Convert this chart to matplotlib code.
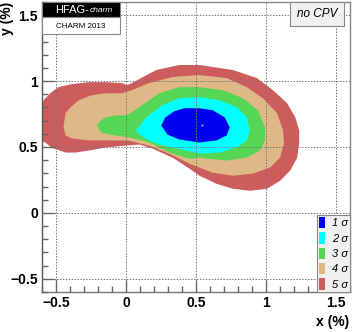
import numpy as np
import matplotlib
matplotlib.use('Agg')
import matplotlib.pyplot as plt
from matplotlib.patches import Rectangle, Patch
from matplotlib.ticker import MultipleLocator

plt.rcParams['font.family'] = ['Liberation Sans', 'DejaVu Sans']

# contour outlines (x %, y %)
x5 = [-0.63, -0.63, -0.576, -0.532, -0.482, -0.388, -0.266, -0.144, -0.029, 0.007, 0.043, 0.094,
      0.216, 0.381, 0.525, 0.763, 0.935, 1.05, 1.151, 1.209, 1.237, 1.237, 1.223, 1.173, 1.101,
      1.007, 0.885, 0.763, 0.647, 0.525, 0.453, 0.331, 0.187, 0.094, 0.0, -0.144, -0.266, -0.36,
      -0.432, -0.532, -0.576]
y5 = [0.56, 0.80, 0.870, 0.916, 0.954, 0.977, 0.992, 0.992, 0.985, 0.969, 0.985, 1.015,
      1.084, 1.122, 1.122, 1.084, 1.023, 0.931, 0.832, 0.725, 0.626, 0.527, 0.420, 0.321, 0.244,
      0.183, 0.168, 0.183, 0.221, 0.282, 0.336, 0.42, 0.489, 0.519, 0.511, 0.496, 0.473, 0.458,
      0.458, 0.496, 0.534]
x4 = [-0.446, -0.432, -0.396, -0.338, -0.245, -0.144, -0.029, 0.043, 0.094, 0.165, 0.331, 0.525,
      0.719, 0.863, 0.978, 1.079, 1.122, 1.129, 1.101, 1.029, 0.906, 0.763, 0.619, 0.525, 0.453,
      0.309, 0.165, 0.022, -0.144, -0.266, -0.388, -0.432]
y4 = [0.656, 0.756, 0.802, 0.855, 0.893, 0.908, 0.908, 0.931, 0.954, 0.985, 1.031, 1.046,
      1.023, 0.954, 0.870, 0.756, 0.626, 0.527, 0.420, 0.344, 0.298, 0.282, 0.305, 0.344, 0.374,
      0.45, 0.511, 0.548, 0.55, 0.55, 0.565, 0.588]
x3 = [-0.209, -0.18, -0.144, -0.072, 0.0, 0.043, 0.094, 0.237, 0.381, 0.525, 0.691, 0.835, 0.942,
      0.993, 0.993, 0.957, 0.863, 0.719, 0.576, 0.525, 0.453, 0.309, 0.165, 0.022, -0.122, -0.18]
y3 = [0.664, 0.702, 0.725, 0.740, 0.740, 0.763, 0.802, 0.908, 0.954, 0.954, 0.931, 0.870, 0.779,
      0.649, 0.550, 0.473, 0.420, 0.397, 0.412, 0.420, 0.41, 0.458, 0.534, 0.573, 0.595, 0.611]
x2 = [0.072, 0.144, 0.259, 0.381, 0.525, 0.669, 0.791, 0.863, 0.885, 0.863, 0.791, 0.669, 0.525,
      0.36, 0.237, 0.165, 0.094]
y2 = [0.626, 0.725, 0.817, 0.87, 0.878, 0.855, 0.802, 0.725, 0.626, 0.550, 0.496, 0.458, 0.450,
      0.489, 0.519, 0.55, 0.595]
x1 = [0.252, 0.281, 0.345, 0.417, 0.525, 0.619, 0.705, 0.741, 0.719, 0.647, 0.525, 0.381, 0.295]
y1 = [0.664, 0.725, 0.771, 0.794, 0.794, 0.779, 0.725, 0.649, 0.588, 0.550, 0.534, 0.557, 0.595]

best_x = [0.54]
best_y = [0.664]

sigma_labels = ['1 σ', '2 σ', '3 σ', '4 σ', '5 σ']
sigma_colors = ['#0000f0', '#00ffff', '#55d655', '#deb887', '#cd5c5c']

fig = plt.figure(figsize=(3.52, 3.32), dpi=100)
ax = fig.add_axes([42/352, 1-292/332, 308/352, 290/332])

outlines = [(x1, y1), (x2, y2), (x3, y3), (x4, y4), (x5, y5)]
for (xs, ys), c in reversed(list(zip(outlines, sigma_colors))):
    ax.fill(xs, ys, color=c, lw=0, zorder=1)
ax.plot(best_x, best_y, 's', ms=1.2, color='#dddd66', mew=0, zorder=2)

ax.set_xlim(-0.6, 1.6)
ax.set_ylim(-0.6, 1.6)
ax.xaxis.set_minor_locator(MultipleLocator(0.1))
ax.yaxis.set_minor_locator(MultipleLocator(0.1))
ax.set_xticks([-0.5, 0, 0.5, 1, 1.5])
ax.set_xticklabels(['\u22120.5', '0', '0.5', '1', '1.5'], fontweight='bold')
ax.set_yticks([-0.5, 0, 0.5, 1, 1.5])
ax.set_yticklabels(['\u22120.5', '0', '0.5', '1', '1.5'], fontweight='bold')
ax.grid(True, which='major', color='#777777', lw=0.7, ls=(0, (1.5, 1.5)), zorder=3)
ax.set_axisbelow(False)
ax.tick_params(which='both', direction='in', color='#666666', top=False, right=False,
               labelsize=10, pad=3)
ax.tick_params(which='major', length=9, width=1)
ax.tick_params(which='minor', length=4, width=1)
for s in ax.spines.values():
    s.set_color('#888888')
    s.set_linewidth(1)
ax.spines['left'].set_color('#555555')
ax.spines['bottom'].set_color('#777777')

fig.text(349/352, 1-322/332, 'x (%)', ha='right', va='center', fontsize=10, fontweight='bold')
fig.text(7/352, 1-2/332, 'y (%)', ha='center', va='top', rotation=90, fontsize=10,
         fontweight='bold')

# HFAG logo
ax.add_patch(Rectangle((0, 1-15/290), 78/308, 15/290, transform=ax.transAxes,
                       facecolor='black', edgecolor='#888888', lw=0.8, zorder=5, clip_on=False))
ax.add_patch(Rectangle((0, 1-32/290), 78/308, 17/290, transform=ax.transAxes,
                       facecolor='white', edgecolor='#888888', lw=0.8, zorder=5, clip_on=False))
t1 = ax.text(13/308, 1-8/290, 'HFAG-', transform=ax.transAxes, color='white', fontsize=8,
             va='center', ha='left', zorder=6)
ax.annotate('charm', xy=(1, 0), xycoords=t1, xytext=(0.5, 0.5), textcoords='offset points',
            color='white', fontsize=6, style='italic', va='bottom', ha='left', zorder=6)
ax.text(39/308, 1-24/290, 'CHARM 2013', transform=ax.transAxes, color='black', fontsize=5.8,
        va='center', ha='center', zorder=6)

# no CPV box
ax.text(1-33/308, 1-12/290, 'no CPV', transform=ax.transAxes, fontsize=8.5, style='italic',
        va='center', ha='center', zorder=6,
        bbox=dict(boxstyle='square,pad=0.55', facecolor='#f0f0f0', edgecolor='#888888', lw=0.8))

handles = [Patch(facecolor=c, edgecolor='none') for c in sigma_colors]
leg = ax.legend(handles, sigma_labels, loc='lower right', bbox_to_anchor=(1, 0),
                borderaxespad=0, fancybox=False, framealpha=1, facecolor='#f0f0f0',
                edgecolor='#888888', handlelength=0.55, handleheight=1.2, handletextpad=0.6,
                labelspacing=0.35, borderpad=0.2, prop={'size': 8, 'style': 'italic'})
leg.set_zorder(7)
leg.get_frame().set_linewidth(0.8)

fig.savefig('out.png', dpi=100)
